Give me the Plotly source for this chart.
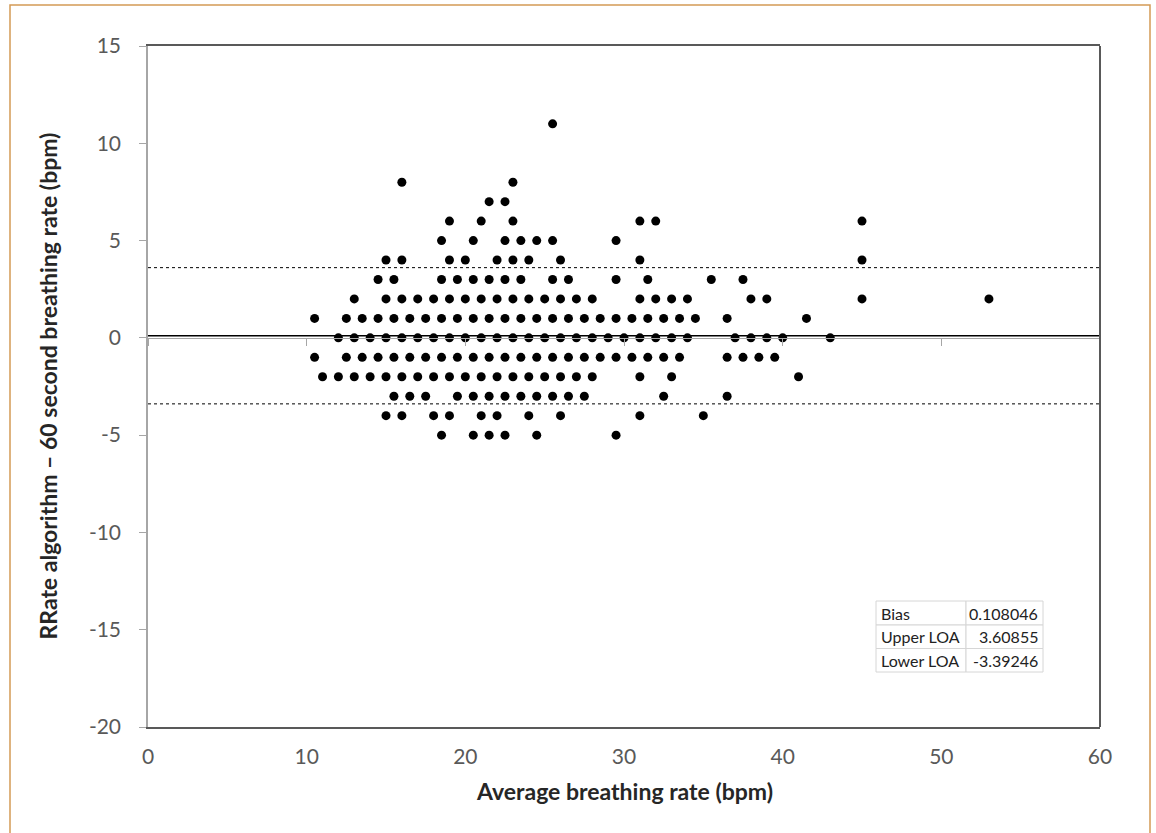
import plotly.graph_objects as go

# ---- data: Bland-Altman points, grouped by difference value (bpm) ----
diff_levels = [11, 8, 7, 6, 5, 4, 3, 2, 1, 0, -1, -2, -3, -4, -5]

avg_at_p11 = [25.5]
avg_at_p8 = [16, 23]
avg_at_p7 = [21.5, 22.5]
avg_at_p6 = [19, 21, 23, 31, 32, 45]
avg_at_p5 = [18.5, 20.5, 22.5, 23.5, 24.5, 25.5, 29.5]
avg_at_p4 = [15, 16, 19, 20, 22, 23, 24, 26, 31, 45]
avg_at_p3 = [14.5, 15.5, 18.5, 19.5, 20.5, 21.5, 22.5, 23.5, 25.5, 26.5, 29.5, 31.5, 35.5, 37.5]
avg_at_p2 = [13, 15, 16, 17, 18, 19, 20, 21, 22, 23, 24, 25, 26, 27, 28, 31, 32, 33, 34, 38, 39, 45, 53]
avg_at_p1 = [10.5, 12.5, 13.5, 14.5, 15.5, 16.5, 17.5, 18.5, 19.5, 20.5, 21.5, 22.5, 23.5, 24.5,
             25.5, 26.5, 27.5, 28.5, 29.5, 30.5, 31.5, 32.5, 33.5, 34.5, 36.5, 41.5]
avg_at_0 = [12, 13, 14, 15, 16, 17, 18, 19, 20, 21, 22, 23, 24, 25, 26, 27, 28, 29, 30, 31,
            32, 33, 34, 37, 38, 39, 40, 43]
avg_at_m1 = [10.5, 12.5, 13.5, 14.5, 15.5, 16.5, 17.5, 18.5, 19.5, 20.5, 21.5, 22.5, 23.5, 24.5,
             25.5, 26.5, 27.5, 28.5, 29.5, 30.5, 31.5, 32.5, 33.5, 36.5, 37.5, 38.5, 39.5]
avg_at_m2 = [11, 12, 13, 14, 15, 16, 17, 18, 19, 20, 21, 22, 23, 24, 25, 26, 27, 28, 31, 33, 41]
avg_at_m3 = [15.5, 16.5, 17.5, 19.5, 20.5, 21.5, 22.5, 23.5, 24.5, 25.5, 26.5, 27.5, 32.5, 36.5]
avg_at_m4 = [15, 16, 18, 19, 21, 22, 24, 26, 31, 35]
avg_at_m5 = [18.5, 20.5, 21.5, 22.5, 24.5, 29.5]

rows = [avg_at_p11, avg_at_p8, avg_at_p7, avg_at_p6, avg_at_p5, avg_at_p4, avg_at_p3,
        avg_at_p2, avg_at_p1, avg_at_0, avg_at_m1, avg_at_m2, avg_at_m3, avg_at_m4, avg_at_m5]

bias = 0.108046
upper_loa = 3.60855
lower_loa = -3.39246

table_labels = ["Bias", "Upper LOA", "Lower LOA"]
table_values = ["0.108046", "3.60855", "-3.39246"]

x_ticks = [0, 10, 20, 30, 40, 50, 60]
y_ticks = [-20, -15, -10, -5, 0, 5, 10, 15]
y_tick_text = ["-20", "-15", "-10", "-5", "0", "5", "10", "15"]

avg_rate = []
difference = []
for lvl, xs in zip(diff_levels, rows):
    for xv in xs:
        avg_rate.append(xv)
        difference.append(lvl)

FONT = "Lato"
W, H = 1156, 833
L, T = 148, 46
PW, PH = 952, 681
fig = go.Figure()

# reference lines
for yv, dash, w in [(upper_loa, "dot", 1), (lower_loa, "dot", 1), (bias, "solid", 1.6)]:
    fig.add_trace(go.Scatter(x=[0, 60], y=[yv, yv], mode="lines",
                             line=dict(color="black", width=w, dash=dash),
                             hoverinfo="skip", showlegend=False, xaxis="x", yaxis="y"))

# points
fig.add_trace(go.Scatter(x=avg_rate, y=difference, mode="markers",
                         marker=dict(color="black", size=9),
                         showlegend=False, xaxis="x2", yaxis="y"))

fig.update_layout(
    width=W, height=H,
    margin=dict(l=L, r=W - L - PW, t=T, b=H - T - PH),
    paper_bgcolor="white", plot_bgcolor="white",
    font=dict(family=FONT),
    xaxis=dict(range=[0, 60], tickvals=x_ticks, ticks="", showgrid=False, zeroline=False,
               showline=True, linecolor="#595959", linewidth=2, mirror=True,
               tickfont=dict(size=21, color="#595959"), ticklabelstandoff=10),
    xaxis2=dict(range=[0, 60], tickvals=x_ticks, overlaying="x", anchor="free",
                position=20 / 35, side="bottom", ticks="outside", ticklen=7,
                tickcolor="#a6a6a6", showticklabels=False, showgrid=False, zeroline=False,
                showline=True, linecolor="#a6a6a6", linewidth=1),
    yaxis=dict(range=[-20, 15], tickvals=y_ticks, ticktext=y_tick_text, ticks="outside",
               ticklen=7, tickcolor="#a6a6a6", showgrid=False, zeroline=False,
               showline=True, linecolor="#a6a6a6", linewidth=1.5,
               tickfont=dict(size=21, color="#595959"), ticklabelstandoff=14),
)

px = lambda v: (v - L) / PW
py = lambda v: (T + PH - v) / PH

shapes = []
# right frame line
shapes.append(dict(type="line", xref="paper", yref="paper", x0=1, x1=1, y0=0, y1=1,
                   line=dict(color="#595959", width=2)))
# outer orange border
shapes.append(dict(type="rect", xref="paper", yref="paper",
                   x0=px(10), x1=px(1150), y0=py(845), y1=py(5),
                   line=dict(color="#d49a55", width=1.5), layer="below"))

# stats table
col_edges = [876, 966, 1043]
row_edges = [601, 625, 648.5, 672]
for i in range(3):
    for j in range(2):
        shapes.append(dict(type="rect", xref="paper", yref="paper",
                           x0=px(col_edges[j]), x1=px(col_edges[j + 1]),
                           y0=py(row_edges[i + 1]), y1=py(row_edges[i]),
                           line=dict(color="#d6d6d6", width=1), fillcolor="white"))
annotations = []
for i in range(3):
    yc = py((row_edges[i] + row_edges[i + 1]) / 2)
    annotations.append(dict(xref="paper", yref="paper", x=px(col_edges[0] + 3), y=yc,
                            xanchor="left", yanchor="middle", text=table_labels[i],
                            showarrow=False, font=dict(size=16, color="#222222", family=FONT)))
    annotations.append(dict(xref="paper", yref="paper", x=px(col_edges[2] - 3), y=yc,
                            xanchor="right", yanchor="middle", text=table_values[i],
                            showarrow=False, font=dict(size=16, color="#222222", family=FONT)))

# axis titles
annotations.append(dict(xref="paper", yref="paper", x=px(47), y=0.5, textangle=-90,
                        xanchor="center", yanchor="middle", showarrow=False,
                        text="<b>RRate algorithm – 60 second breathing rate (bpm)</b>",
                        font=dict(size=23, color="#262626", family=FONT)))
annotations.append(dict(xref="paper", yref="paper", x=0.5, y=py(791),
                        xanchor="center", yanchor="middle", showarrow=False,
                        text="<b>Average breathing rate (bpm)</b>",
                        font=dict(size=23, color="#262626", family=FONT)))

fig.update_layout(shapes=shapes, annotations=annotations)
fig.write_html("out.html", config={"displayModeBar": False},
               post_script="document.body.style.margin='0';document.body.style.overflow='hidden';")
